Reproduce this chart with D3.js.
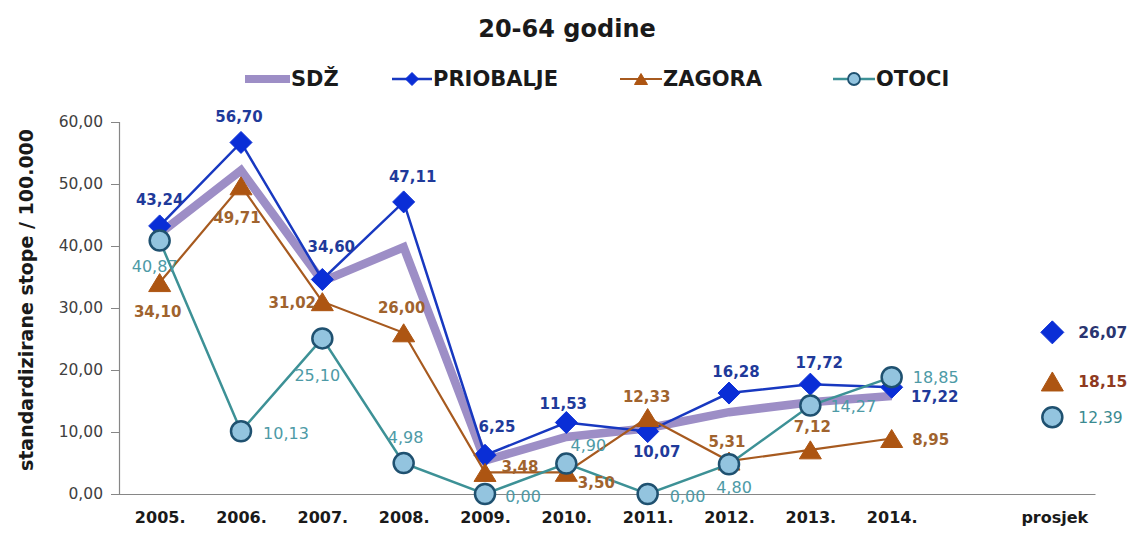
<!DOCTYPE html>
<html>
<head>
<meta charset="utf-8">
<script src="https://cdn.jsdelivr.net/npm/d3@7"></script>
<style>
  body { margin: 0; background: #fff; }
  svg { display: block; }
  text { font-family: "DejaVu Sans", sans-serif; }
</style>
</head>
<body>
<svg id="chart" width="1134" height="535"></svg>
<script>
// data
var years = ["2005.", "2006.", "2007.", "2008.", "2009.", "2010.", "2011.", "2012.", "2013.", "2014."];
var sdz       = [42.0, 52.2, 34.3, 39.8, 5.4, 9.2, 10.6, 13.2, 14.8, 15.8];
var priobalje = [43.24, 56.70, 34.60, 47.11, 6.25, 11.53, 10.07, 16.28, 17.72, 17.22];
var zagora    = [34.10, 49.71, 31.02, 26.00, 3.48, 3.50, 12.33, 5.31, 7.12, 8.95];
var otoci     = [40.87, 10.13, 25.10, 4.98, 0.00, 4.90, 0.00, 4.80, 14.27, 18.85];
var prosjek   = [26.07, 18.15, 12.39];   // priobalje, zagora, otoci
var yTicks    = [0, 10, 20, 30, 40, 50, 60];

// label offsets from the marker (style only)
var offPriobalje = [[0,-26],[-2,-25],[9,-32],[9,-25],[12,-28],[-3,-19],[9,20],[7,-21],[9,-21],[43,10]];
var offZagora    = [[-2,29],[-4,32],[-30,1],[-2,-25],[35,-5],[30,11],[-1,-21],[-2,-19],[2,-23],[39,1]];
var offOtoci     = [[-5,26],[45,2],[-5,37],[2,-26],[38,2],[22,-18],[40,2],[5,23],[43,1],[44,0]];

var fmt = function(v){ return d3.format(".2f")(v).replace(".", ","); };

var svg = d3.select("#chart");
var plotLeft = 119, plotRight = 1095, plotTop = 122, plotBottom = 494;

var cats = years.concat(["_gap", "prosjek"]);
var x = d3.scalePoint().domain(cats).range([plotLeft, plotRight]).padding(0.5);
var y = d3.scaleLinear().domain([0, 60]).range([plotBottom, plotTop]);

// shapes
function diamond(s){ return "M0," + (-s) + "L" + s + ",0L0," + s + "L" + (-s) + ",0Z"; }
function triangle(w, h){ return "M0," + (-h/2) + "L" + (w/2) + "," + (h/2) + "L" + (-w/2) + "," + (h/2) + "Z"; }

// title
svg.append("text").attr("x", 567).attr("y", 37).attr("text-anchor", "middle")
   .style("font-size", "24px").style("font-weight", "bold").attr("fill", "#1a1a1a")
   .text("20-64 godine");

// axes
var yAxis = d3.axisLeft(y).tickValues(yTicks).tickSize(8).tickPadding(8).tickFormat(fmt);
var gy = svg.append("g").attr("transform", "translate(" + plotLeft + ",0)").call(yAxis);
gy.select(".domain").attr("stroke", "#868686").attr("stroke-width", 1.2);
gy.selectAll(".tick line").attr("stroke", "#868686");
gy.selectAll(".tick text").style("font-size", "15.5px").attr("fill", "#404040")
  .style("font-family", "DejaVu Sans");

var xAxis = d3.axisBottom(x).tickSize(0).tickPadding(18)
  .tickFormat(function(d){ return d === "_gap" ? "" : d; });
var gx = svg.append("g").attr("transform", "translate(0," + plotBottom + ")").call(xAxis);
gx.select(".domain").attr("stroke", "#868686").attr("stroke-width", 1.2);
gx.selectAll(".tick text").style("font-size", "16px").style("font-weight", "bold")
  .attr("fill", "#1a1a1a").style("font-family", "DejaVu Sans");

svg.append("text")
   .attr("transform", "translate(33," + ((plotTop + plotBottom) / 2 - 8) + ") rotate(-90)")
   .attr("text-anchor", "middle").style("font-size", "19px").style("font-weight", "bold")
   .attr("fill", "#1a1a1a").text("standardizirane stope / 100.000");

var line = d3.line().x(function(d, i){ return x(years[i]); }).y(function(d){ return y(d); });

// SDŽ
svg.append("path").datum(sdz).attr("d", line).attr("fill", "none")
   .attr("stroke", "#9d8ec6").attr("stroke-width", 8.5).attr("stroke-linejoin", "miter");

function series(vals, opt){
  var g = svg.append("g");
  g.append("path").datum(vals).attr("d", line).attr("fill", "none")
   .attr("stroke", opt.line).attr("stroke-width", opt.lw);
  g.selectAll("path.m").data(vals).enter().append("path").attr("class", "m")
   .attr("transform", function(d, i){ return "translate(" + x(years[i]) + "," + y(d) + ")"; })
   .attr("d", opt.shape).attr("fill", opt.fill).attr("stroke", opt.stroke).attr("stroke-width", opt.sw);
  return g;
}
function labels(vals, off, opt){
  svg.append("g").selectAll("text").data(vals).enter().append("text")
   .attr("x", function(d, i){ return x(years[i]) + off[i][0]; })
   .attr("y", function(d, i){ return y(d) + off[i][1]; })
   .attr("text-anchor", "middle").attr("dominant-baseline", "central")
   .style("font-size", opt.size).style("font-weight", opt.weight).attr("fill", opt.color)
   .text(fmt);
}

var stPri = { line: "#1838c0", lw: 2.5, shape: diamond(11), fill: "#0a2ed6", stroke: "#0a2ed6", sw: 1 };
var stZag = { line: "#a75a1f", lw: 2.2, shape: triangle(22, 18), fill: "#ad5512", stroke: "#ad5512", sw: 1 };
var stOto = { line: "#3d9196", lw: 2.5, shape: d3.symbol().type(d3.symbolCircle).size(Math.PI * 100)(), fill: "#93c4df", stroke: "#1f5170", sw: 2.5 };

series(priobalje, stPri);
series(zagora, stZag);
series(otoci, stOto);

labels(priobalje, offPriobalje, { size: "15px", weight: "bold", color: "#1f3a9a" });
labels(zagora, offZagora, { size: "15px", weight: "bold", color: "#a0632e" });
labels(otoci, offOtoci, { size: "16px", weight: "normal", color: "#4d9aa6" });

// averages (prosjek)
var avgStyle = [
  { shape: diamond(11.5), fill: "#0a2ed6", stroke: "#0a2ed6", sw: 1, color: "#2a3570", weight: "bold" },
  { shape: triangle(22, 19), fill: "#ad5512", stroke: "#ad5512", sw: 1, color: "#8f3a1f", weight: "bold" },
  { shape: d3.symbol().type(d3.symbolCircle).size(Math.PI * 100)(), fill: "#93c4df", stroke: "#1f5170", sw: 2.5, color: "#3a8a90", weight: "normal" }
];
var ga = svg.append("g");
ga.selectAll("path").data(prosjek).enter().append("path")
  .attr("transform", function(d){ return "translate(" + (x("prosjek") - 2) + "," + y(d) + ")"; })
  .attr("d", function(d, i){ return avgStyle[i].shape; })
  .attr("fill", function(d, i){ return avgStyle[i].fill; })
  .attr("stroke", function(d, i){ return avgStyle[i].stroke; })
  .attr("stroke-width", function(d, i){ return avgStyle[i].sw; });
ga.selectAll("text").data(prosjek).enter().append("text")
  .attr("x", x("prosjek") + 24).attr("y", function(d){ return y(d) + 1; })
  .attr("dominant-baseline", "central").style("font-size", "15.5px")
  .style("font-weight", function(d, i){ return avgStyle[i].weight; })
  .attr("fill", function(d, i){ return avgStyle[i].color; })
  .text(fmt);

// legend
var legend = [
  { name: "SDŽ", x0: 245, x1: 290, line: "#9d8ec6", lw: 8, shape: null },
  { name: "PRIOBALJE", x0: 392, x1: 432, line: "#1838c0", lw: 2.5, shape: diamond(6.5), fill: "#0a2ed6", stroke: "#0a2ed6", sw: 1 },
  { name: "ZAGORA", x0: 620, x1: 662, line: "#a75a1f", lw: 2.2, shape: triangle(13, 11), fill: "#ad5512", stroke: "#ad5512", sw: 1 },
  { name: "OTOCI", x0: 833, x1: 875, line: "#3d9196", lw: 2.5, shape: d3.symbol().type(d3.symbolCircle).size(Math.PI * 36)(), fill: "#93c4df", stroke: "#1f5170", sw: 1.8 }
];
var ly = 79;
var gl = svg.append("g");
legend.forEach(function(l){
  gl.append("line").attr("x1", l.x0).attr("x2", l.x1).attr("y1", ly).attr("y2", ly)
    .attr("stroke", l.line).attr("stroke-width", l.lw);
  if (l.shape) {
    gl.append("path").attr("d", l.shape).attr("transform", "translate(" + ((l.x0 + l.x1) / 2) + "," + ly + ")")
      .attr("fill", l.fill).attr("stroke", l.stroke).attr("stroke-width", l.sw);
  }
  gl.append("text").attr("x", l.x1 + 1).attr("y", ly).attr("dominant-baseline", "central")
    .style("font-size", "21px").style("font-weight", "bold").attr("fill", "#1a1a1a").text(l.name);
});
</script>
</body>
</html>
